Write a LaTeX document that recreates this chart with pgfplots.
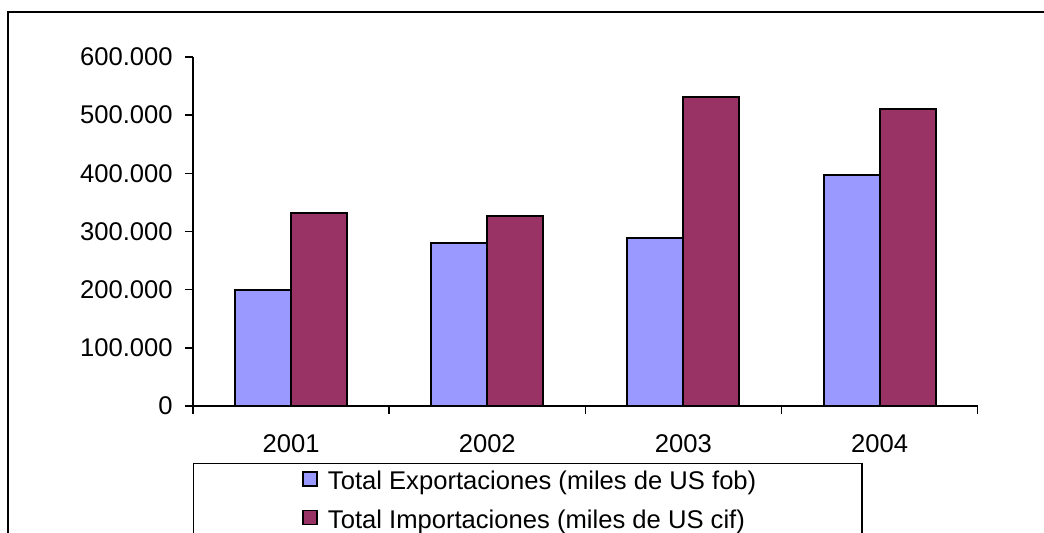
\documentclass[border=0pt]{standalone}
\usepackage{fontspec}
\setmainfont{Liberation Sans}
\usepackage{pgfplots}
\pgfplotsset{compat=1.18}
\definecolor{expo}{HTML}{9999FF}
\definecolor{impo}{HTML}{993366}
\newcommand\chartfont{\fontsize{12.85}{15}\selectfont}
\begin{document}
\chartfont
\begin{tikzpicture}
\useasboundingbox (0,0) rectangle (522bp,266.5bp);
\clip (0,0) rectangle (522bp,266.5bp);
% outer chart frame (cut at right and bottom)
\draw[line width=1bp] (3.75bp,-5bp) |- (530bp,260.25bp);
\begin{axis}[
    scale only axis,
    width=392.35bp, height=174.5bp,
    at={(96.5bp,63.5bp)}, anchor=south west,
    ybar=0pt, bar width=28bp,
    xmin=-0.5, xmax=3.5,
    ymin=0, ymax=600000,
    axis lines=left,
    axis line style={-, line width=0.75bp},
    xtick={0,1,2,3},
    xticklabels={2001,2002,2003,2004},
    minor xtick={-0.5,0.5,1.5,2.5,3.5},
    ytick={0,100000,200000,300000,400000,500000,600000},
    yticklabels={0,100.000,200.000,300.000,400.000,500.000,600.000},
    scaled y ticks=false,
    tick align=outside,
    major x tick style={draw=none},
    major tick length=4bp, minor tick length=4bp,
    tick style={line width=0.75bp, black},
    tick label style={font=\chartfont},
    yticklabel style={anchor=east, inner sep=0pt, xshift=-6bp},
    xticklabel style={anchor=north, inner sep=0pt, yshift=-9.9bp},
    legend style={draw=none, fill=none, inner sep=0pt, anchor=north west,
        at={(0.1385,-0.1854)}, row sep=7bp,
        nodes={inner sep=0pt, text height=9bp, text depth=3bp},
        font=\chartfont,
        /tikz/every odd column/.append style={column sep=5.2bp}},
    legend cell align=left,
    legend image code/.code={\draw[#1, draw=black, line width=0.75bp] (0bp,-1bp) rectangle (7bp,6bp);},
]
\addplot[fill=expo, draw=black, line width=1bp] coordinates
    {(0,199000) (1,281000) (2,289000) (3,397000)};
\addplot[fill=impo, draw=black, line width=1bp] coordinates
    {(0,332000) (1,326000) (2,531000) (3,511000)};
\legend{Total Exportaciones (miles de US fob), Total Importaciones (miles de US cif)}
\end{axis}
% legend frame (cut at bottom)
\draw[line width=0.6bp] (96.65bp,-5bp) |- (431bp,34.85bp) -- (431bp,-5bp);
\end{tikzpicture}
\end{document}
